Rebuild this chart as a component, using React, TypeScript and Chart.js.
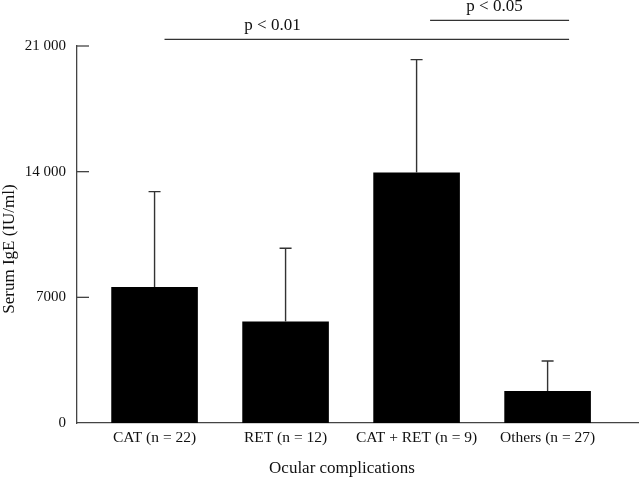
import React, { useEffect, useRef } from "react";
import { Chart, registerables } from "chart.js";

Chart.register(...registerables);

const categories = ["CAT (n = 22)", "RET (n = 12)", "CAT + RET (n = 9)", "Others (n = 27)"];
const meanValues = [7570, 5650, 13950, 1780];
const upperErrorValues = [12890, 9730, 20240, 3450];

const yTickValues = [0, 7000, 14000, 21000];
const yTickLabels = ["0", "7000", "14 000", "21 000"];

const sigLabels = ["p < 0.01", "p < 0.05"];
const sigFrom = [0.076, 2.103];
const sigTo = [3.164, 3.164];
const sigLevel = [21370, 22430];
const sigTextAt = [0.9, 2.595];

const xTitle = "Ocular complications";
const yTitle = "Serum IgE (IU/ml)";

const FONT = "'Liberation Serif', 'Times New Roman', serif";
const AXIS_COLOR = "#444";

const overlayPlugin = {
  id: "overlay",
  afterDatasetsDraw(chart: any) {
    const ctx = chart.ctx;
    const xs = chart.scales.x;
    const ys = chart.scales.y;
    ctx.save();
    // error bars
    ctx.strokeStyle = "#333";
    ctx.lineWidth = 1.4;
    for (let i = 0; i < categories.length; i++) {
      const x = xs.getPixelForValue(i);
      const yTop = ys.getPixelForValue(meanValues[i]);
      const yErr = ys.getPixelForValue(upperErrorValues[i]);
      ctx.beginPath();
      ctx.moveTo(x, yTop);
      ctx.lineTo(x, yErr);
      ctx.moveTo(x - 6, yErr);
      ctx.lineTo(x + 6, yErr);
      ctx.stroke();
    }
    // inner y ticks
    ctx.strokeStyle = AXIS_COLOR;
    ctx.lineWidth = 1.3;
    const left = chart.chartArea.left;
    for (const v of yTickValues) {
      if (v === 0) continue;
      const y = ys.getPixelForValue(v);
      ctx.beginPath();
      ctx.moveTo(left, y);
      ctx.lineTo(left + 12, y);
      ctx.stroke();
    }
    // significance lines
    ctx.strokeStyle = "#333";
    ctx.lineWidth = 1.3;
    ctx.fillStyle = "#111";
    ctx.font = `17px ${FONT}`;
    ctx.textAlign = "center";
    ctx.textBaseline = "alphabetic";
    for (let i = 0; i < sigLabels.length; i++) {
      const y = ys.getPixelForValue(sigLevel[i]);
      ctx.beginPath();
      ctx.moveTo(xs.getPixelForValue(sigFrom[i]), y);
      ctx.lineTo(xs.getPixelForValue(sigTo[i]), y);
      ctx.stroke();
      ctx.fillText(sigLabels[i], xs.getPixelForValue(sigTextAt[i]), y - 9);
    }
    // axis titles
    ctx.font = `17px ${FONT}`;
    ctx.fillText(xTitle, 342, 473);
    ctx.save();
    ctx.translate(14, 249);
    ctx.rotate(-Math.PI / 2);
    ctx.fillText(yTitle, 0, 0);
    ctx.restore();
    ctx.restore();
  },
};

export default function App() {
  const ref = useRef<HTMLCanvasElement | null>(null);
  useEffect(() => {
    document.body.style.margin = "0";
    const canvas = ref.current;
    if (!canvas) return;
    const chart = new Chart(canvas, {
      type: "bar",
      data: {
        datasets: [
          {
            data: categories.map((_, i) => ({ x: i, y: meanValues[i] })) as any,
            backgroundColor: "#000",
            borderWidth: 0,
            categoryPercentage: 1,
            barPercentage: 0.661,
          },
        ],
      },
      options: {
        responsive: false,
        animation: false,
        layout: { padding: { top: 46, right: 2, left: 0, bottom: 0 } },
        plugins: { legend: { display: false }, tooltip: { enabled: false } },
        scales: {
          x: {
            type: "linear",
            min: -0.592,
            max: 3.69,
            offset: false,
            grid: { display: false, drawTicks: false },
            border: { display: true, color: AXIS_COLOR, width: 1.3 },
            afterBuildTicks: (scale: any) => {
              scale.ticks = categories.map((_, i) => ({ value: i }));
            },
            afterFit: (scale: any) => {
              scale.height = 55;
            },
            ticks: {
              autoSkip: false,
              maxRotation: 0,
              padding: 6,
              color: "#111",
              font: { family: FONT, size: 15.5 },
              callback: (v: any) => categories[Math.round(Number(v))] ?? "",
            },
          },
          y: {
            type: "linear",
            min: 0,
            max: 21000,
            grid: { display: false, drawTicks: false },
            border: { display: true, color: AXIS_COLOR, width: 1.3 },
            afterBuildTicks: (scale: any) => {
              scale.ticks = yTickValues.map((v) => ({ value: v }));
            },
            afterFit: (scale: any) => {
              scale.width = 77;
            },
            ticks: {
              padding: 11,
              color: "#111",
              font: { family: FONT, size: 15 },
              callback: (v: any) => {
                const idx = yTickValues.indexOf(Number(v));
                return idx >= 0 ? yTickLabels[idx] : "";
              },
            },
          },
        },
      },
      plugins: [overlayPlugin],
    });
    return () => chart.destroy();
  }, []);
  return (
    <div style={{ width: 640, height: 478, background: "#fff" }}>
      <canvas ref={ref} width={640} height={478} style={{ display: "block" }} />
    </div>
  );
}
